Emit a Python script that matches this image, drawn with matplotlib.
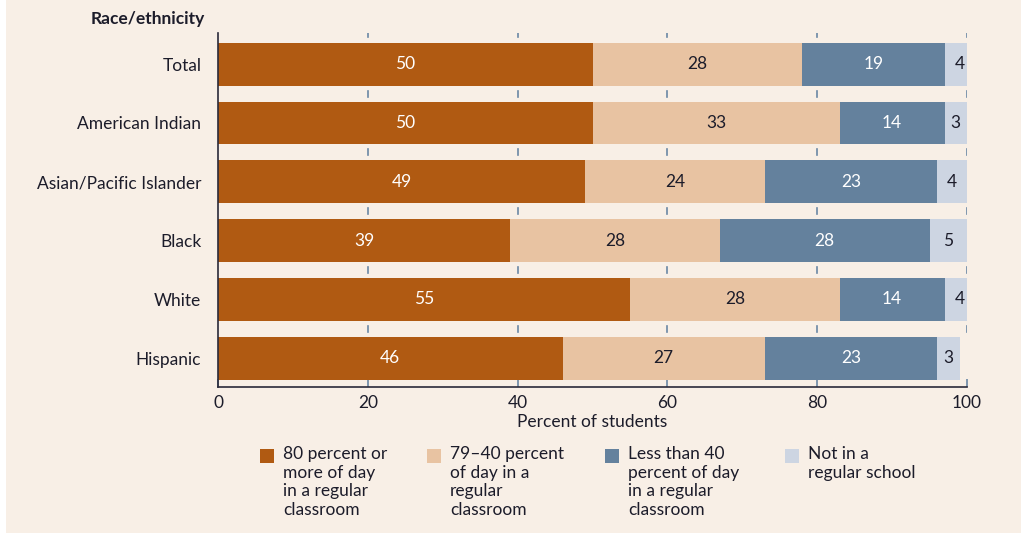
import matplotlib
matplotlib.use("Agg")
import matplotlib.pyplot as plt
from matplotlib.patches import Rectangle
import numpy as np

plt.rcParams['font.family'] = ['Lato', 'DejaVu Sans']

# Data
groups = ["Total", "American Indian", "Asian/Pacific Islander", "Black", "White", "Hispanic"]
share_80_plus = [50, 50, 49, 39, 55, 46]
share_40_79 = [28, 33, 24, 28, 28, 27]
share_under_40 = [19, 14, 23, 28, 14, 23]
share_not_regular = [4, 3, 4, 5, 4, 3]
series = [share_80_plus, share_40_79, share_under_40, share_not_regular]
series_labels = [
    "80 percent or\nmore of day\nin a regular\nclassroom",
    "79\u201340 percent\nof day in a\nregular\nclassroom",
    "Less than 40\npercent of day\nin a regular\nclassroom",
    "Not in a\nregular school",
]
x_ticks = [0, 20, 40, 60, 80, 100]

colors = ["#B05A12", "#E8C3A2", "#64819D", "#CDD5E2"]
text_colors = ["white", "#1c1c2a", "white", "#1c1c2a"]
bg = "#F8EFE6"
dark = "#1c1c2a"
tick_blue = "#6A87A5"
fs = 12.5

W, H = 1021, 535
fig = plt.figure(figsize=(W / 100, H / 100), dpi=100, facecolor="white")
fig.patches.append(Rectangle((6 / W, 2 / H), 1 - 6 / W, 1 - 2 / H,
                             transform=fig.transFigure, facecolor=bg,
                             edgecolor="none", zorder=-10))

ax = fig.add_axes([218 / W, 1 - 387 / H, (967 - 218) / W, (387 - 33) / H])
ax.set_facecolor("none")

y = np.arange(len(groups))
left = np.zeros(len(groups))
for vals, col, tcol in zip(series, colors, text_colors):
    vals = np.array(vals, dtype=float)
    ax.barh(y, vals, left=left, height=0.73, color=col, edgecolor="none", zorder=2)
    for yi, l, v in zip(y, left, vals):
        ax.text(l + v / 2, yi, f"{int(v)}", ha="center", va="center",
                color=tcol, fontsize=fs, zorder=3)
    left += vals

ax.set_xlim(0, 100)
ax.set_ylim(len(groups) - 0.51, -0.53)

# short guide marks between the bars
for xt in x_ticks[1:]:
    for g in np.arange(0.5, len(groups) - 1, 1.0):
        ax.plot([xt, xt], [g - 0.05, g + 0.05], color=tick_blue, lw=1.2, zorder=1)
    ax.plot([xt, xt], [-0.53, -0.47], color=tick_blue, lw=1.2, zorder=1)

ax.set_yticks(y)
ax.set_yticklabels(groups, fontsize=fs, color=dark)
ax.tick_params(axis="y", length=0, pad=12)
ax.set_xticks(x_ticks)
ax.set_xticklabels([str(t) for t in x_ticks], fontsize=fs, color=dark)
ax.tick_params(axis="x", direction="in", length=6, width=1.2, color=tick_blue, pad=6)

for s in ["top", "right"]:
    ax.spines[s].set_visible(False)
for s in ["left", "bottom"]:
    ax.spines[s].set_color("#2a2a3a")
    ax.spines[s].set_linewidth(1.2)

ax.set_xlabel("Percent of students", fontsize=fs, color=dark, labelpad=2)

fig.text(205 / W, 1 - 19 / H, "Race/ethnicity", ha="right", va="center",
         fontsize=fs, fontweight="bold", color=dark)

# legend
sq_x = [260, 427, 605, 785]
for sx, col, lab in zip(sq_x, colors, series_labels):
    fig.patches.append(Rectangle((sx / W, 1 - 463 / H), 14 / W, 14 / H,
                                 transform=fig.transFigure, facecolor=col,
                                 edgecolor="none"))
    fig.text((sx + 23) / W, 1 - 446 / H, lab, ha="left", va="top",
             fontsize=fs, color=dark, linespacing=1.2)

fig.savefig("out.png", dpi=100, facecolor="white")
